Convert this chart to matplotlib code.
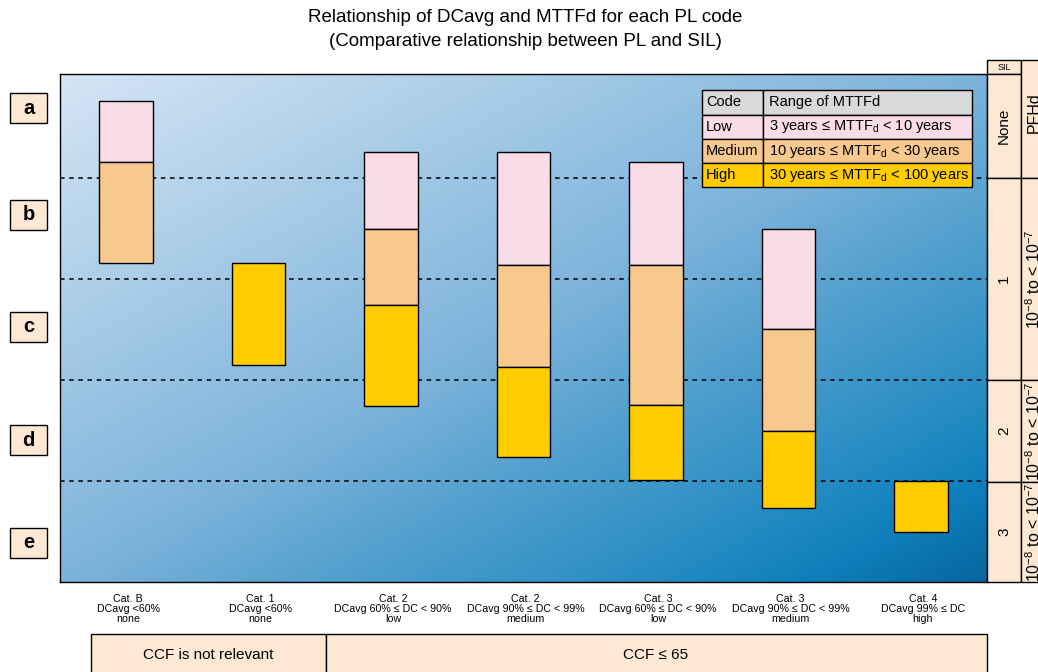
import matplotlib
matplotlib.use("Agg")
import matplotlib.pyplot as plt
import numpy as np
from matplotlib.patches import Rectangle
from matplotlib.colors import LinearSegmentedColormap

plt.rcParams['font.family'] = ['Liberation Sans', 'DejaVu Sans']
plt.rcParams['mathtext.fontset'] = 'custom'
plt.rcParams['mathtext.rm'] = 'Liberation Sans'
plt.rcParams['mathtext.it'] = 'Liberation Sans'

W, H = 1038, 672

# data: categories and MTTFd segment ranges (in PL band units, e=0..1 ... a=4..5)
categories = ["Cat. B\nDCavg <60%\nnone",
              "Cat. 1\nDCavg <60%\nnone",
              "Cat. 2\nDCavg 60% \u2264 DC < 90%\nlow",
              "Cat. 2\nDCavg 90% \u2264 DC < 99%\nmedium",
              "Cat. 3\nDCavg 60% \u2264 DC < 90%\nlow",
              "Cat. 3\nDCavg 90% \u2264 DC < 99%\nmedium",
              "Cat. 4\nDCavg 99% \u2264 DC\nhigh"]
low_bottom = [4.16, np.nan, 3.50, 3.14, 3.14, 2.51, np.nan]
low_top    = [4.76, np.nan, 4.26, 4.26, 4.16, 3.50, np.nan]
med_bottom = [3.16, np.nan, 2.74, 2.13, 1.75, 1.50, np.nan]
med_top    = [4.16, np.nan, 3.50, 3.14, 3.14, 2.51, np.nan]
high_bottom = [np.nan, 2.15, 1.74, 1.24, 1.01, 0.73, 0.50]
high_top    = [np.nan, 3.16, 2.74, 2.13, 1.75, 1.50, 1.00]

pl_codes = ["a", "b", "c", "d", "e"]
sil_labels = ["None", "1", "2", "3"]
legend_rows = [("Code", "Range of MTTFd"),
               ("Low", "3 years \u2264 MTTF$_\\mathrm{d}$ < 10 years"),
               ("Medium", "10 years \u2264 MTTF$_\\mathrm{d}$ < 30 years"),
               ("High", "30 years \u2264 MTTF$_\\mathrm{d}$ < 100 years")]

pink = "#f9dce8"
orange = "#f8c98e"
yellow = "#ffcc00"
peach = "#fde9d3"
gray = "#d9d9d9"

fig = plt.figure(figsize=(W / 100, H / 100), dpi=100)

# main axes
ax = fig.add_axes([60 / W, (H - 582) / H, 927 / W, 508 / H])
ax.set_xlim(-0.5, 6.5)
ax.set_ylim(0, 5.03)

grad_cmap = LinearSegmentedColormap.from_list(
    "bg", [(0, "#d5e5f4"), (0.5, "#7cb3db"), (0.62, "#5aa3d0"),
           (0.8, "#2a8ec4"), (0.9, "#0f80bc"), (1.0, "#0766a0")])
gx, gy = np.meshgrid(np.linspace(0, 1, 300), np.linspace(0, 1, 200))
ax.imshow((gx + gy) / 2, cmap=grad_cmap, extent=[0, 1, 0, 1], aspect="auto",
          transform=ax.transAxes, zorder=0)

x = np.arange(len(categories))
bw = 0.405
lb, lt = np.array(low_bottom), np.array(low_top)
mb, mt = np.array(med_bottom), np.array(med_top)
hb, ht = np.array(high_bottom), np.array(high_top)
ax.bar(x, lt - lb, bottom=lb, width=bw, color=pink, edgecolor="black", linewidth=1, zorder=3)
ax.bar(x, mt - mb, bottom=mb, width=bw, color=orange, edgecolor="black", linewidth=1, zorder=3)
ax.bar(x, ht - hb, bottom=hb, width=bw, color=yellow, edgecolor="black", linewidth=1, zorder=3)

for yl in [1, 2, 3, 4]:
    ax.axhline(yl, color="black", linestyle=(0, (3, 3)), linewidth=1.1, zorder=2)

ax.set_xticks(x + 0.015)
ax.set_xticklabels(categories, fontsize=7.7, linespacing=1.0)
ax.tick_params(axis="x", length=0, pad=9)
ax.set_yticks([])
for s in ax.spines.values():
    s.set_linewidth(1)
    s.set_zorder(5)

# overlay axes in pixel coordinates
ov = fig.add_axes([0, 0, 1, 1], zorder=5)
ov.set_xlim(0, W)
ov.set_ylim(H, 0)
ov.axis("off")
ov.patch.set_alpha(0)

fig.text(0.506, 1 - 17 / H, "Relationship of DCavg and MTTFd for each PL code",
         ha="center", va="center", fontsize=13.5)
fig.text(0.506, 1 - 41 / H, "(Comparative relationship between PL and SIL)",
         ha="center", va="center", fontsize=13.5)

# PL code boxes
for code, yc in zip(pl_codes, [108, 215, 327, 440, 543]):
    ov.add_patch(Rectangle((10, yc - 15), 37, 30, facecolor=peach, edgecolor="black", linewidth=1))
    ov.text(28.5, yc, code, ha="center", va="center", fontsize=14.5, fontweight="bold")

# SIL / PFHd columns
ov.add_patch(Rectangle((987, 60), 34, 14, facecolor=peach, edgecolor="black", linewidth=1))
ov.text(1004, 67.5, "SIL", ha="center", va="center", fontsize=6.5)
bands = [(74, 178), (178, 380), (380, 482), (482, 582)]
for lab, (y0, y1) in zip(sil_labels, bands):
    ov.add_patch(Rectangle((987, y0), 34, y1 - y0, facecolor=peach, edgecolor="black", linewidth=1))
    ov.text(1004, (y0 + y1) / 2, lab, ha="center", va="center", rotation=90, fontsize=11)
pfh_bands = [(60, 178)] + bands[1:]
for (y0, y1) in pfh_bands:
    ov.add_patch(Rectangle((1021, y0), 40, y1 - y0, facecolor=peach, edgecolor="black", linewidth=1))
ov.text(1034, 113, "PFHd", ha="center", va="center", rotation=90, fontsize=11.5)
for (y0, y1) in bands[1:]:
    ov.text(1034, (y0 + y1) / 2, "10$^{-8}$ to < 10$^{-7}$", ha="center", va="center",
            rotation=90, fontsize=11.5)

# CCF boxes
ov.add_patch(Rectangle((91, 634), 235, 60, facecolor=peach, edgecolor="black", linewidth=1))
ov.add_patch(Rectangle((326, 634), 661, 60, facecolor=peach, edgecolor="black", linewidth=1))
ov.text(208, 655, "CCF is not relevant", ha="center", va="center", fontsize=11)
ov.text(656, 655, "CCF \u2264 65", ha="center", va="center", fontsize=11)

# legend table
row_colors = [gray, pink, orange, yellow]
row_y = [90, 114.5, 139, 163, 187]
for i, ((c1, c2), col) in enumerate(zip(legend_rows, row_colors)):
    y0, y1 = row_y[i], row_y[i + 1]
    ov.add_patch(Rectangle((702, y0), 61, y1 - y0, facecolor=col, edgecolor="black", linewidth=1))
    ov.add_patch(Rectangle((763, y0), 209, y1 - y0, facecolor=col, edgecolor="black", linewidth=1))
    ov.text(706, (y0 + y1) / 2, c1, ha="left", va="center", fontsize=10.5)
    ov.text(769, (y0 + y1) / 2, c2, ha="left", va="center", fontsize=10.5)

fig.savefig("out.png", dpi=100)
